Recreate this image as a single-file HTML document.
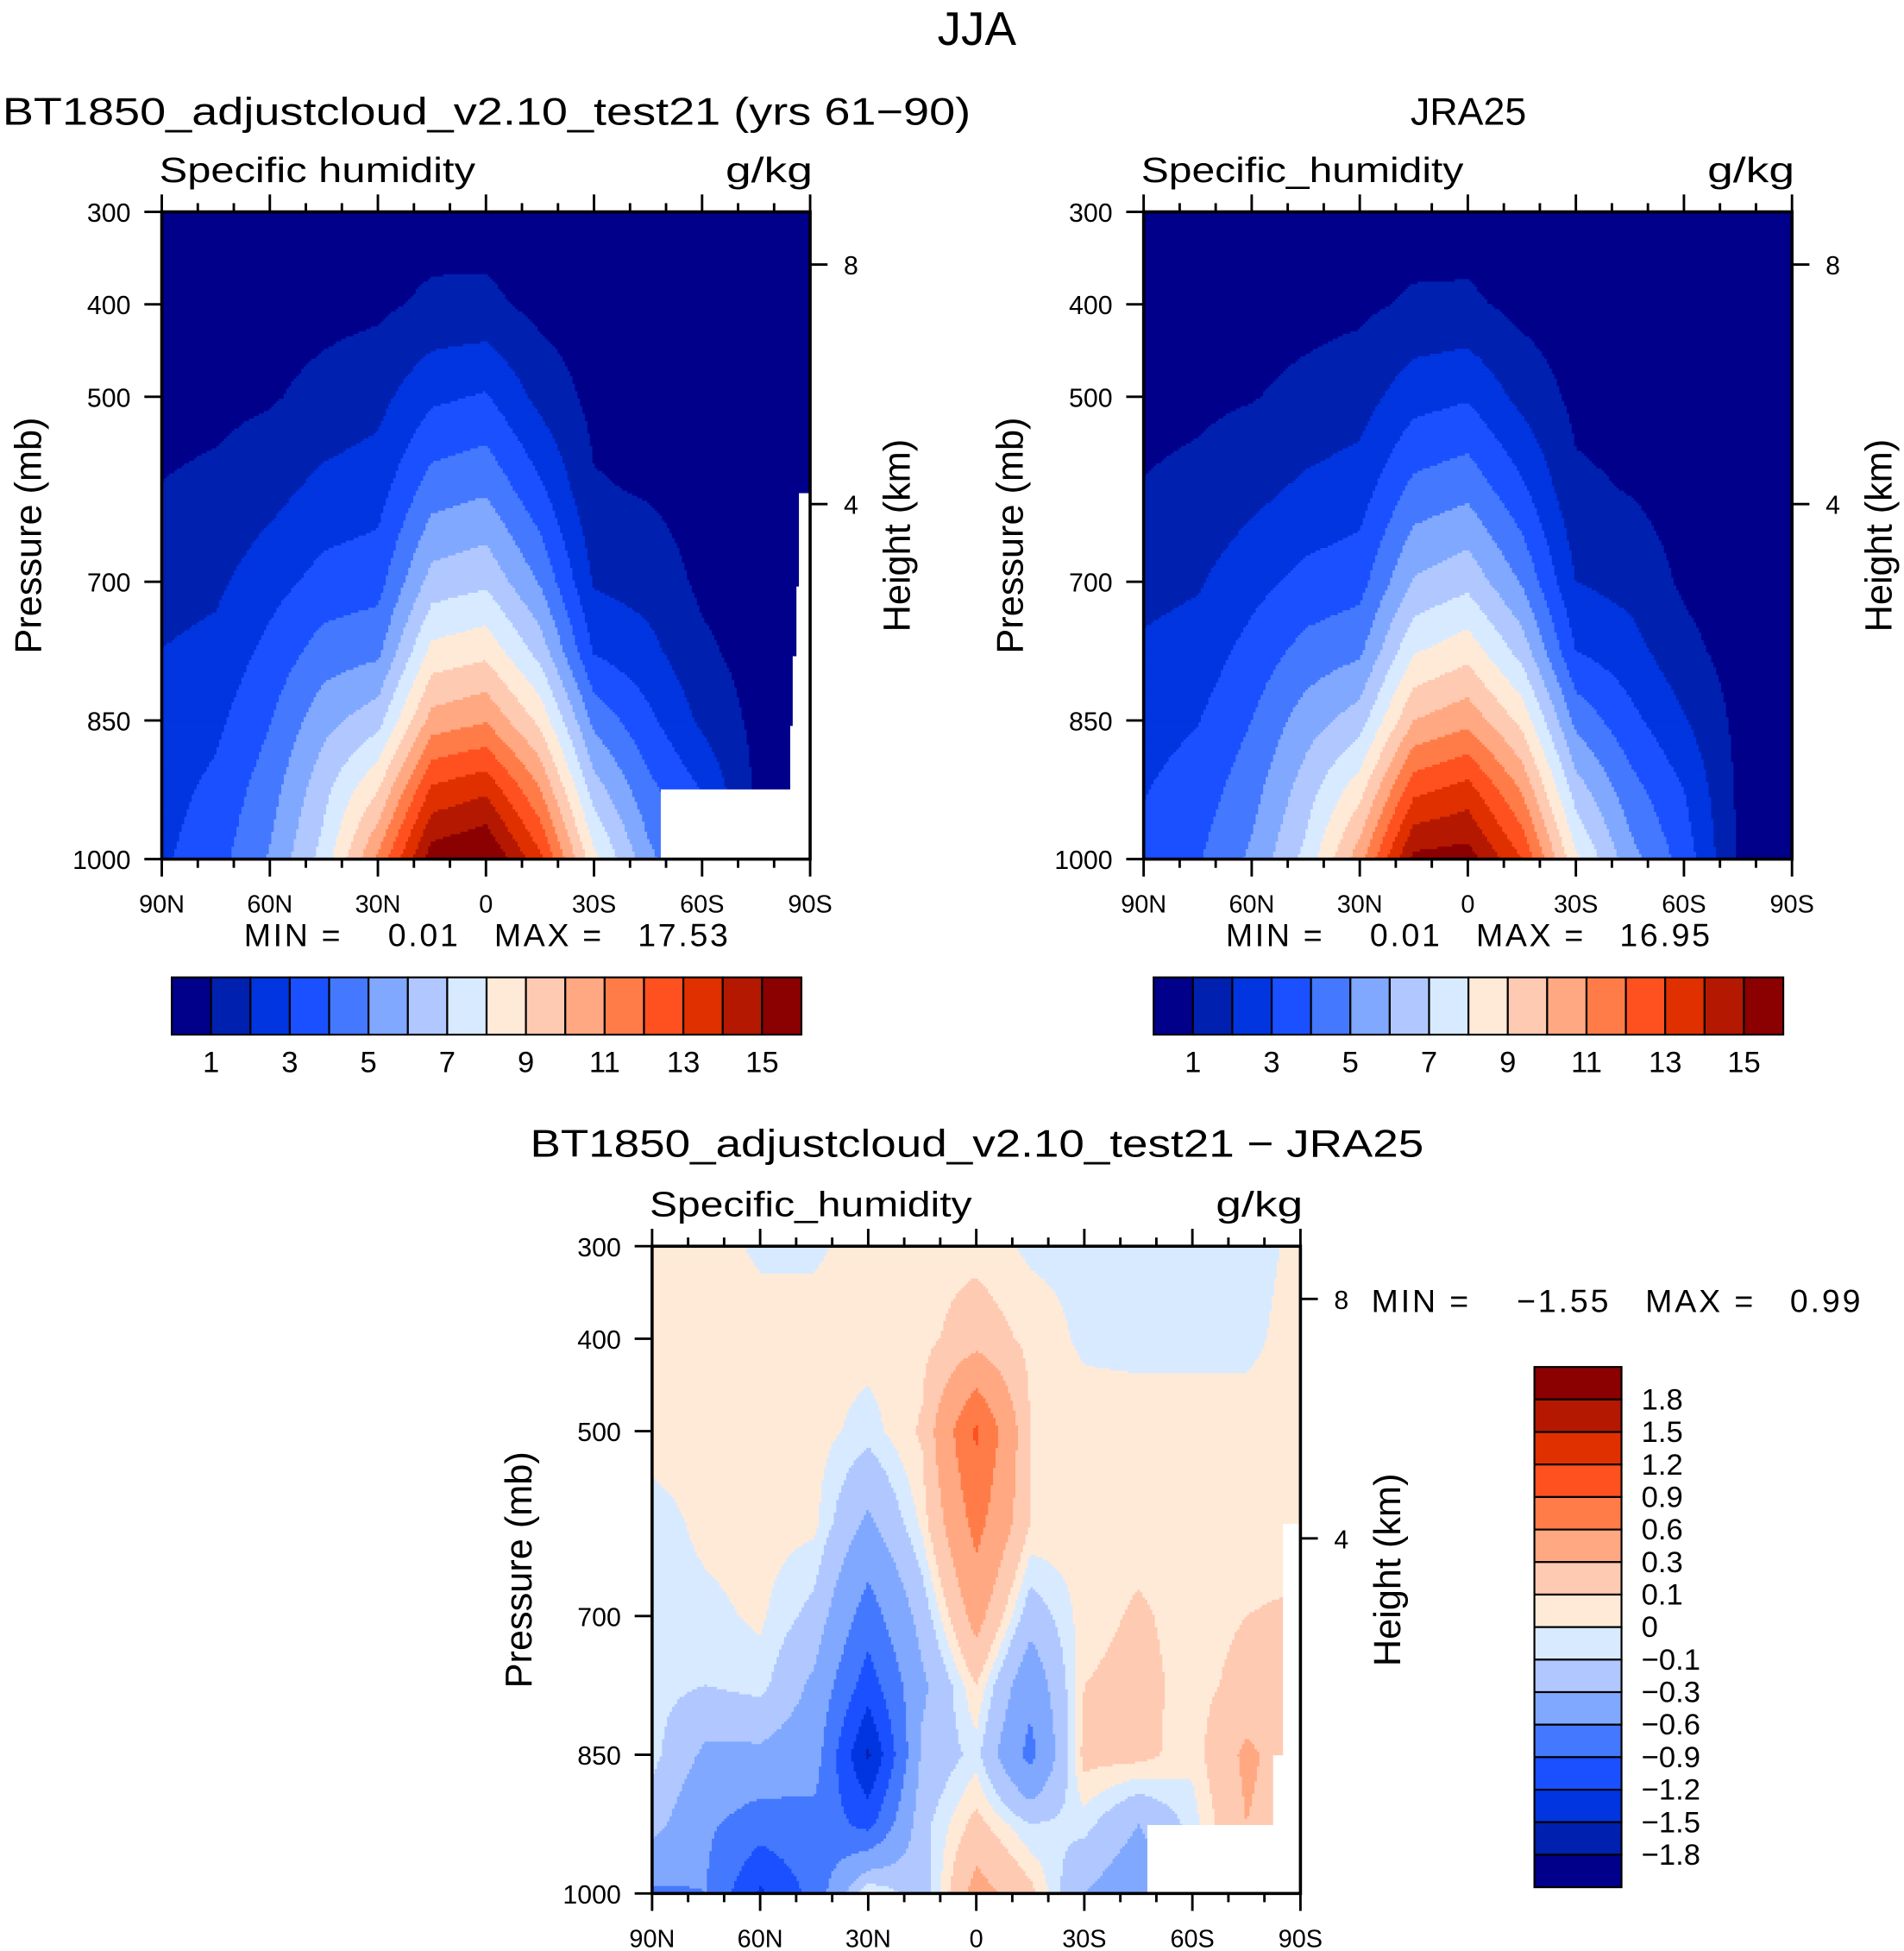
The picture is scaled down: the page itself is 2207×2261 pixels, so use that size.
<!DOCTYPE html>
<html><head><meta charset="utf-8">
<style>
html,body{margin:0;padding:0;background:#fff;}
svg{display:block;}
text{font-family:"Liberation Sans",sans-serif;fill:#000;}
.pre{white-space:pre;}
</style></head>
<body>
<svg id="chart" xmlns="http://www.w3.org/2000/svg" width="2207" height="2261" viewBox="0 0 1530 1567">
<rect x="0" y="0" width="1530" height="1567" fill="#fff"/>
<text x="785" y="36" font-size="38" text-anchor="middle">JJA</text>
<text x="2" y="100" font-size="31" textLength="778" lengthAdjust="spacingAndGlyphs">BT1850_adjustcloud_v2.10_test21 (yrs 61−90)</text>
<text x="1180" y="100" font-size="31" text-anchor="middle">JRA25</text>
<text x="785" y="929" font-size="31" text-anchor="middle" textLength="718" lengthAdjust="spacingAndGlyphs">BT1850_adjustcloud_v2.10_test21 − JRA25</text>
<g id="panels"></g>
</svg>
<script>
// ---------- data ----------
const lats = [90,75,60,45,30,15,0,-15,-30,-45,-60,-75,-90];
const latTickLabels = ["90N","60N","30N","0","30S","60S","90S"];
const pres = [300,400,500,600,700,775,850,925,1000];
const presTickLabels = [300,400,500,700,850,1000];
const heightTicks = [{km:8,p:357},{km:4,p:616}];
const qModel = [
 [0.2,0.45,0.7,1.03,1.6,2.02,2.3,2.6,2.85],
 [0.25,0.5,0.75,1.2,1.8,2.27,2.76,3.25,3.6],
 [0.3,0.6,0.9,1.65,2.6,3.3,3.95,4.55,5.1],
 [0.35,0.7,1.3,2.3,3.35,4.45,5.65,6.7,7.4],
 [0.4,0.8,1.67,2.55,3.6,4.75,6.6,8.95,11.2],
 [0.55,1.2,2.8,4.5,6.4,8.3,10.4,13.2,15.6],
 [0.5,1.25,3.1,4.85,6.8,8.7,10.9,13.8,16.2],
 [0.3,0.7,1.7,3.2,4.9,6.6,8.75,11.05,13.25],
 [0.2,0.45,0.7,1.1,1.9,2.9,4.7,6.5,8.3],
 [0.15,0.35,0.6,0.9,1.6,2.3,3.25,4.3,5.3],
 [0.1,0.25,0.4,0.6,0.8,1.2,1.8,2.95,3.5],
 [0.05,0.1,0.2,0.3,0.45,0.6,0.75,0.85,0.9],
 [0.02,0.05,0.1,0.2,0.3,0.4,0.5,0.6,0.65]
];
const qObs = [
 [0.2,0.45,0.7,1.05,1.7,2.15,2.6,2.95,3.2],
 [0.25,0.5,0.8,1.25,1.9,2.4,2.95,3.45,3.9],
 [0.3,0.6,0.95,1.7,2.65,3.35,4.0,4.6,5.2],
 [0.35,0.7,1.25,2.2,3.3,4.35,5.5,6.5,7.3],
 [0.4,0.8,1.55,2.5,3.6,4.8,6.5,8.6,10.6],
 [0.5,1.15,2.6,4.3,6.1,7.9,10.0,12.7,15.3],
 [0.45,1.2,2.9,4.7,6.7,8.6,10.7,13.4,15.5],
 [0.3,0.7,1.7,3.2,4.9,6.6,8.7,10.9,13.0],
 [0.2,0.45,0.75,1.2,2.0,3.0,4.7,6.5,8.2],
 [0.15,0.35,0.6,0.95,1.65,2.4,3.3,4.4,5.4],
 [0.1,0.25,0.4,0.6,0.85,1.3,2.1,3.0,3.6],
 [0.05,0.1,0.2,0.3,0.45,0.6,0.75,0.85,0.9],
 [0.02,0.05,0.1,0.2,0.3,0.4,0.5,0.6,0.65]
];
const qDiff = [
 [0.05,0.05,0.05,-0.05,-0.05,-0.05,-0.05,-0.2,-0.65],
 [0.05,0.05,0.05,0.03,-0.03,-0.1,-0.35,-0.55,-0.6],
 [-0.02,0.05,0.05,0.05,0.02,-0.05,-0.35,-0.75,-1.25],
 [-0.02,0.05,0.05,0.03,-0.15,-0.35,-0.45,-0.7,-0.8],
 [0.05,0.05,-0.05,-0.35,-0.75,-1.05,-1.55,-1.0,0.05],
 [0.05,0.05,0.12,0.03,-0.2,-0.35,-0.25,-0.15,-0.2],
 [0.05,0.2,0.95,0.7,0.4,0.1,-0.05,0.15,0.4],
 [-0.02,0.06,0.1,0.1,-0.2,-0.5,-0.7,-0.1,0.15],
 [-0.03,-0.02,0.05,0.05,0.05,0.1,0.15,-0.05,-0.3],
 [-0.05,-0.03,0.05,0.05,0.12,0.15,0.15,-0.3,-0.5],
 [-0.05,-0.03,0.05,0.05,0.05,0.05,0.03,-0.05,-0.1],
 [-0.05,-0.03,0.05,0.05,0.1,0.15,0.35,0.3,0.3],
 [0.03,0.05,0.05,0.05,0.12,0.15,0.15,0.15,0.15]
];
const qLevels = [1,2,3,4,5,6,7,8,9,10,11,12,13,14,15];
const qLevelLabels = ["1","3","5","7","9","11","13","15"];
const dLevels = [-1.8,-1.5,-1.2,-0.9,-0.6,-0.3,-0.1,0,0.1,0.3,0.6,0.9,1.2,1.5,1.8];
const dLevelLabels = ["1.8","1.5","1.2","0.9","0.6","0.3","0.1","0","−0.1","−0.3","−0.6","−0.9","−1.2","−1.5","−1.8"];
const palette = ["#00008b","#0020b0","#0035e0","#1a50ff","#4478ff","#80a8ff","#b0c8ff","#d8eaff",
                 "#ffead8","#ffcab2","#ffa882","#ff7c48","#ff5020","#e03000","#b41800","#8b0000"];
const leftStats = {min:"0.01", max:"17.53"};
const rightStats = {min:"0.01", max:"16.95"};
const diffStats = {min:"−1.55", max:"0.99"};

// ---------- helpers ----------
const NS="http://www.w3.org/2000/svg";
const root=document.getElementById('panels');
function mk(tag,attrs,parent){const e=document.createElementNS(NS,tag);for(const k in attrs)e.setAttribute(k,attrs[k]);(parent||root).appendChild(e);return e;}
function levelIndex(v,levels){let i=0;while(i<levels.length&&v>levels[i])i++;return i;}
function sample(grid,lat,p){
  let fc=(90-lat)/15; fc=Math.max(0,Math.min(lats.length-1.0001,fc));
  const c=Math.floor(fc), tc=fc-c;
  let r=0; while(r<pres.length-2&&p>pres[r+1])r++;
  let tr=(p-pres[r])/(pres[r+1]-pres[r]); tr=Math.max(0,Math.min(1,tr));
  const a=grid[c][r],b=grid[c+1][r],d=grid[c][r+1],e=grid[c+1][r+1];
  return (a*(1-tc)+b*tc)*(1-tr)+(d*(1-tc)+e*tc)*tr;
}

function panel(opt){
  const x0=opt.x,y0=opt.y,w=521,h=520;
  const xS=lat=>x0+(90-lat)/180*w;
  const yS=p=>y0+(p-300)/700*h;
  const g=mk('g',{});
  
  
  const fill=mk('g',{},g);
  
  
  const s=2;
  for(let py=0;py<h;py+=s){
    const p=300+(py+s/2)/h*700;
    let runStart=0,runCol=-1;
    const flush=(end)=>{ if(runCol<0)return;
      const r=mk('rect',{x:(x0+runStart).toFixed(1),y:(y0+py).toFixed(1),width:(end-runStart+0.4).toFixed(1),height:(Math.min(s,h-py)+0.4).toFixed(1),fill:palette[runCol]},fill);
      
      
    };
    for(let px=0;px<w;px+=s){
      const lat=90-(px+s/2)/w*180;
      const ci=levelIndex(sample(opt.grid,lat,p),opt.levels);
      if(ci!==runCol){flush(px);runStart=px;runCol=ci;}
    }
    flush(w);
  }
  (opt.mask||[]).forEach(m=>{const r=mk('rect',{x:m[0],y:m[1],width:m[2],height:m[3],fill:'#fff'},g);
    });
  const fr=mk('rect',{x:x0,y:y0,width:w,height:h,fill:'none',stroke:'#000','stroke-width':2.5},g);
  
  for(let lat=90;lat>=-90;lat-=10){
    const X=xS(lat), major=(lat%30===0), L=major?14:7;
    mk('line',{x1:X,y1:y0,x2:X,y2:y0-L,stroke:'#000','stroke-width':2},g);
    mk('line',{x1:X,y1:y0+h,x2:X,y2:y0+h+L,stroke:'#000','stroke-width':2},g);
  }
  latTickLabels.forEach((t,i)=>{const lat=90-i*30;
    const e=mk('text',{x:xS(lat),y:y0+h+43,'font-size':20,'text-anchor':'middle'},g);e.textContent=t;
    });
  presTickLabels.forEach(p=>{const Y=yS(p);
    mk('line',{x1:x0,y1:Y,x2:x0-14,y2:Y,stroke:'#000','stroke-width':2},g);
    const e=mk('text',{x:x0-25,y:Y+8,'font-size':21,'text-anchor':'end'},g);e.textContent=p;
    });
  heightTicks.forEach(t=>{const Y=yS(t.p);
    mk('line',{x1:x0+w,y1:Y,x2:x0+w+14,y2:Y,stroke:'#000','stroke-width':2},g);
    const e=mk('text',{x:x0+w+27,y:Y+8,'font-size':21},g);e.textContent=t.km;
    });
  let e=mk('text',{x:x0-2,y:y0-24,'font-size':28,textLength:opt.varLen,lengthAdjust:'spacingAndGlyphs'},g);e.textContent=opt.var;
  
  e=mk('text',{x:x0+w-68,y:y0-24,'font-size':28,textLength:70,lengthAdjust:'spacingAndGlyphs'},g);e.textContent='g/kg';
  
  e=mk('text',{x:0,y:0,'font-size':30,'text-anchor':'middle',transform:`translate(${x0-97},${y0+h/2}) rotate(-90)`},g);e.textContent='Pressure (mb)';
  
  e=mk('text',{x:0,y:0,'font-size':30,'text-anchor':'middle',transform:`translate(${x0+w+80},${y0+h/2}) rotate(-90)`},g);e.textContent='Height (km)';
  
  return {xS,yS,g};
}

function hColorbar(x,y,levels,labels,name){
  const g=mk('g',{});
  const bw=506/16;
  for(let i=0;i<16;i++){const r=mk('rect',{x:x+i*bw,y:y,width:bw,height:46,fill:palette[i],stroke:'#000','stroke-width':1.5},g);
    }
  labels.forEach((t,i)=>{const e=mk('text',{x:x+(2*i+1)*bw,y:y+76,'font-size':24,'text-anchor':'middle'},g);e.textContent=t;
    });
}
function statText(x,y,st,len,name){
  const e=mk('text',{x:x,y:y,'font-size':26,'class':'pre',textLength:len,lengthAdjust:'spacing'});
  e.textContent=`MIN =    ${st.min}   MAX =   ${st.max}`;
  
}

// ---------- panels ----------
panel({name:'model-panel',x:130,y:170,grid:qModel,levels:qLevels,var:'Specific humidity',varLen:254,
  mask:[[531,634,121,56],[642,396,10,294],[640,471,12,219],[637,527,15,163],[635,583,17,107]]});
statText(196,760,leftStats,389,'model-min-max');
hColorbar(138,785,qLevels,qLevelLabels,'model-colorbar');

panel({name:'obs-panel',x:919,y:170,grid:qObs,levels:qLevels,var:'Specific_humidity',varLen:259});
statText(985,760,rightStats,389,'obs-min-max');
hColorbar(927,785,qLevels,qLevelLabels,'obs-colorbar');

panel({name:'diff-panel',x:524,y:1001,grid:qDiff,levels:dLevels,var:'Specific_humidity',varLen:259,
  mask:[[1031,1224,14,297],[1023,1410,22,111],[922,1466,123,55]]});
statText(1102,1054,diffStats,393,'diff-min-max');
(function(){
  const g=mk('g',{});
  const x=1233,y=1098,bh=418/16;
  for(let i=0;i<16;i++){const r=mk('rect',{x:x,y:y+i*bh,width:70,height:bh,fill:palette[15-i],stroke:'#000','stroke-width':1.5},g);
    }
  dLevelLabels.forEach((t,i)=>{const e=mk('text',{x:x+86,y:y+(i+1)*bh+8,'font-size':24},g);e.textContent=t;
    });
})();
</script>
</body></html>
